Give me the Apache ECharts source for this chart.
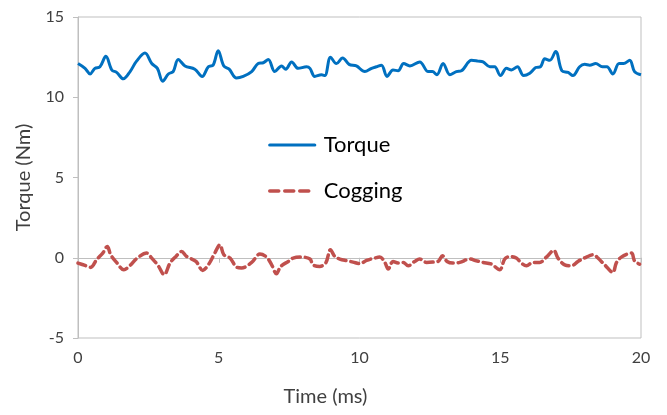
<!DOCTYPE html>
<html><head><meta charset="utf-8">
<script src="https://cdn.jsdelivr.net/npm/echarts@6/dist/echarts.min.js"></script>
<style>html,body{margin:0;padding:0;background:#fff}#c{width:667px;height:415px}</style>
</head><body><div id="c"></div>
<script>
var torqueT = [0,0.25,0.43,0.60,0.78,0.99,1.20,1.37,1.61,1.85,2.08,2.38,2.62,2.82,3.01,3.21,3.38,3.56,3.80,4.15,4.41,4.63,4.80,4.98,5.18,5.37,5.63,5.87,6.17,6.40,6.58,6.76,6.99,7.23,7.38,7.59,7.82,8.12,8.24,8.41,8.65,8.77,8.97,9.18,9.40,9.63,9.89,10.19,10.43,10.60,10.78,10.98,11.19,11.37,11.57,11.79,12.14,12.44,12.59,12.75,12.97,13.21,13.44,13.62,13.98,14.21,14.39,14.63,14.80,15.01,15.22,15.40,15.61,15.83,16.05,16.26,16.43,16.58,16.76,16.97,17.19,17.41,17.58,17.82,18.00,18.18,18.39,18.63,18.79,19.00,19.22,19.38,19.60,19.77,20];
var torqueV = [12.1,11.8,11.45,11.8,11.9,12.55,11.7,11.55,11.15,11.6,12.25,12.75,12.1,11.8,11.0,11.45,11.6,12.35,11.95,11.75,11.3,11.9,12.0,12.9,11.95,11.75,11.2,11.3,11.6,12.1,12.15,12.35,11.6,11.95,11.75,12.2,11.8,11.9,11.8,11.3,11.4,11.35,12.5,12.1,12.45,12.05,11.95,11.6,11.8,11.9,12.0,11.3,11.7,11.65,12.1,11.95,12.2,11.6,11.6,11.4,12.1,11.4,11.6,11.65,12.3,12.25,12.2,11.9,11.9,11.35,11.8,11.7,11.9,11.35,11.5,11.85,11.9,12.4,12.3,12.85,11.65,11.55,11.35,11.9,12.05,12.0,12.1,11.9,11.9,11.45,12.1,12.1,12.3,11.6,11.4];
var coggingT = [0,0.25,0.45,0.66,0.88,1.04,1.16,1.37,1.63,1.85,2.08,2.44,2.62,2.85,3.06,3.27,3.48,3.68,3.86,4.19,4.43,4.63,4.86,5.04,5.18,5.40,5.63,5.81,6.17,6.46,6.70,6.88,7.05,7.20,7.47,7.64,7.94,8.24,8.35,8.59,8.80,8.97,9.12,9.30,9.56,9.77,10.01,10.25,10.54,10.72,10.90,11.02,11.19,11.37,11.55,11.73,11.96,12.14,12.38,12.61,12.79,12.95,13.11,13.32,13.56,13.92,14.15,14.39,14.69,14.98,15.16,15.34,15.57,15.75,15.93,16.16,16.40,16.64,16.90,17.05,17.29,17.53,17.76,18.06,18.32,18.47,18.71,19.00,19.12,19.30,19.66,19.77,19.95];
var coggingV = [-0.33,-0.48,-0.6,-0.12,0.29,0.7,0.19,-0.29,-0.75,-0.48,-0.06,0.29,-0.02,-0.5,-1.06,-0.33,0.08,0.39,0.08,-0.23,-0.79,-0.44,0.29,0.81,0.19,-0.02,-0.58,-0.64,-0.29,0.23,0.04,-0.44,-1.0,-0.54,-0.23,-0.02,0.04,-0.08,-0.44,-0.54,-0.33,0.5,0.08,-0.08,-0.19,-0.27,-0.37,-0.17,-0.02,0.04,-0.29,-0.7,-0.23,-0.33,-0.29,-0.5,-0.23,-0.08,-0.29,-0.27,-0.23,0.12,-0.23,-0.33,-0.29,-0.08,-0.19,-0.29,-0.4,-0.75,-0.08,0.08,-0.02,-0.33,-0.5,-0.29,-0.29,0.04,0.46,-0.02,-0.44,-0.5,-0.23,0.04,0.19,-0.02,-0.44,-0.92,-0.33,0.04,0.29,-0.19,-0.4];
var xTicks = [0,5,10,15,20];
var yTicks = [-5,0,5,10,15];
var seriesNames = ['Torque','Cogging'];

function zip(a,b){var r=[];for(var i=0;i<a.length;i++)r.push([a[i],b[i]]);return r;}
var font = 'Lato';
var chart = echarts.init(document.getElementById('c'), null, {renderer:'canvas'});
chart.setOption({
  animation:false,
  backgroundColor:'#ffffff',
  textStyle:{fontFamily:font},
  grid:{left:78,right:26,top:17,bottom:77,show:true,borderColor:'#bfbfbf',borderWidth:1,containLabel:false},
  legend:{
    data:[{name:seriesNames[0]},{name:seriesNames[1],lineStyle:{type:[9,6],width:3.5}}],
    orient:'vertical', left:263, top:129, itemWidth:45, itemHeight:14, itemGap:24,
    itemStyle:{opacity:0},
    lineStyle:{width:3.2,cap:'round'},
    textStyle:{fontFamily:font,fontSize:22,color:'#000000',padding:[0,0,0,4]}
  },
  xAxis:{
    type:'value', min:xTicks[0], max:xTicks[xTicks.length-1], interval:5,
    name:'Time (ms)', nameLocation:'middle', nameGap:49,
    nameTextStyle:{fontFamily:font,fontSize:20,color:'#404040',padding:[0,68,0,0]},
    axisLine:{show:true,lineStyle:{color:'#bfbfbf',width:1}},
    axisTick:{show:true,length:5,lineStyle:{color:'#bfbfbf'}},
    axisLabel:{fontFamily:font,fontSize:16,color:'#404040',margin:12},
    splitLine:{show:false}
  },
  yAxis:{
    type:'value', min:yTicks[0], max:yTicks[yTicks.length-1], interval:5,
    name:'Torque (Nm)', nameLocation:'middle', nameGap:44,
    nameTextStyle:{fontFamily:font,fontSize:20,color:'#404040'},
    axisLine:{show:true,lineStyle:{color:'#bfbfbf',width:1}},
    axisTick:{show:true,length:5,lineStyle:{color:'#bfbfbf'}},
    axisLabel:{fontFamily:font,fontSize:16,color:'#404040',margin:14},
    splitLine:{show:false}
  },
  series:[
    {name:seriesNames[0], type:'line', data:zip(torqueT,torqueV), smooth:0.35, symbol:'none',
     lineStyle:{color:'#0070C0',width:3}, itemStyle:{color:'#0070C0'}},
    {name:seriesNames[1], type:'line', data:zip(coggingT,coggingV), smooth:0.35, symbol:'none',
     lineStyle:{color:'#C0504D',width:3.5,type:[8,5],cap:'round'}, itemStyle:{color:'#C0504D'}}
  ]
});
</script></body></html>
